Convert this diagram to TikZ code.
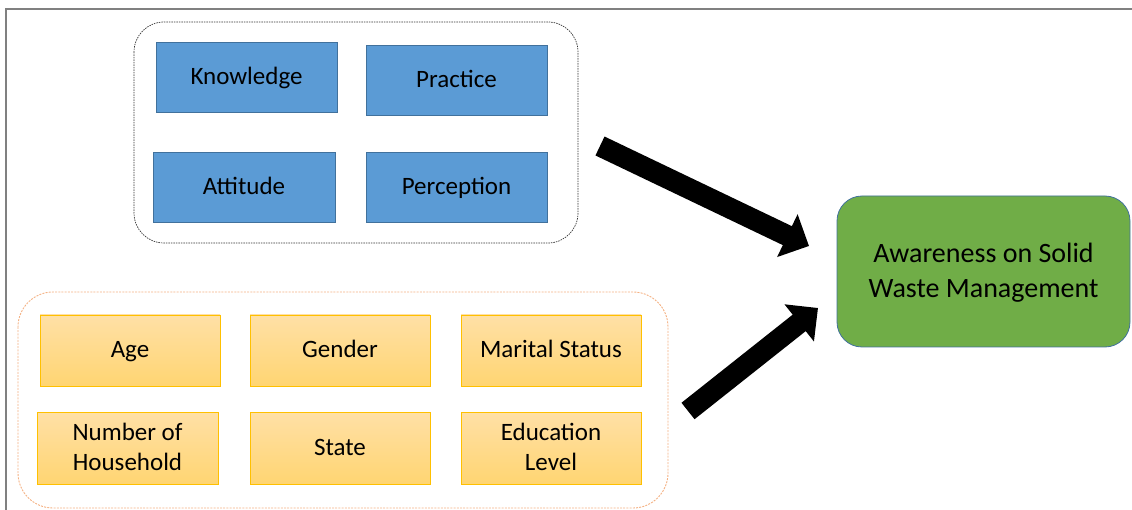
\documentclass[tikz,border=0pt]{standalone}
\usepackage{fontspec}
\setmainfont{Carlito}
\usetikzlibrary{arrows.meta,shadings}
\newcommand{\mystrut}{\rule[-0.2em]{0pt}{0.98em}}
\definecolor{bluefill}{HTML}{5B9BD5}
\definecolor{blueline}{HTML}{41719C}
\definecolor{orangetop}{HTML}{FFE0A6}
\definecolor{orangebot}{HTML}{FFD572}
\definecolor{orangeline}{HTML}{FFC000}
\definecolor{groupline}{HTML}{F4B183}
\definecolor{greenfill}{HTML}{70AD47}
\definecolor{framegray}{HTML}{808080}
\tikzset{
  boxtext/.style={align=center,inner sep=0pt},
  bluebox/.style={boxtext,draw=blueline,line width=0.8pt,fill=bluefill,minimum width=181pt,minimum height=70pt,font=\fontsize{25}{30.5}\selectfont},
  orangebox/.style={boxtext,draw=orangeline,line width=0.8pt,top color=orangetop,bottom color=orangebot,minimum width=180pt,minimum height=71pt,font=\fontsize{25}{30.5}\selectfont},
  greenbox/.style={boxtext,draw=blueline,line width=0.8pt,fill=greenfill,rounded corners=25pt,minimum width=293pt,minimum height=151pt,font=\fontsize{28}{35}\selectfont},
  bigarrow/.style={line width=21pt,-{Triangle[length=24pt,width=46pt]}},
}
\begin{document}
\begin{tikzpicture}[x=1pt,y=-1pt]
\useasboundingbox (0,0) rectangle (1132,510);
% frame
\draw[framegray,line width=2pt] (6,510) -- (6,9) -- (1132,9);
% groups
\draw[black!80,dash pattern=on 1.5pt off 1pt,line width=0.7pt,rounded corners=30pt] (134,22) rectangle (578,243);
\draw[groupline,dash pattern=on 2pt off 1.2pt,line width=0.9pt,rounded corners=35pt] (18,292) rectangle (668,508);
% blue boxes
\node[bluebox] (know) at (246.5,77) {\mystrut Knowledge};
\node[bluebox] (prac) at (456.5,80) {\mystrut Practice};
\node[bluebox,minimum width=182pt] (att) at (244,187) {\mystrut Attitude};
\node[bluebox] (perc) at (456.5,187) {\mystrut Perception};
% orange boxes
\node[orangebox] (age) at (130,350.5) {\mystrut Age};
\node[orangebox] (gen) at (340,350.5) {\mystrut Gender};
\node[orangebox] (mar) at (551,350.5) {\mystrut Marital Status};
\node[orangebox,minimum width=181pt,minimum height=72pt] (num) at (127.5,448) {\mystrut Number of\\\mystrut Household};
\node[orangebox,minimum height=72pt] (state) at (340,448) {\mystrut State};
\node[orangebox,minimum height=72pt] (edu) at (551,448) {\mystrut Education\\\mystrut Level};
% green
\node[greenbox] (aware) at (983.5,271.5) {\mystrut Awareness on Solid\\\mystrut Waste Management};
% arrows
\coordinate (t1) at (600,146);
\coordinate (h1) at (809,246);
\coordinate (t2) at (688,411);
\coordinate (h2) at (818,308);
\draw[bigarrow] (t1) -- (h1);
\draw[bigarrow] (t2) -- (h2);
\end{tikzpicture}
\end{document}
